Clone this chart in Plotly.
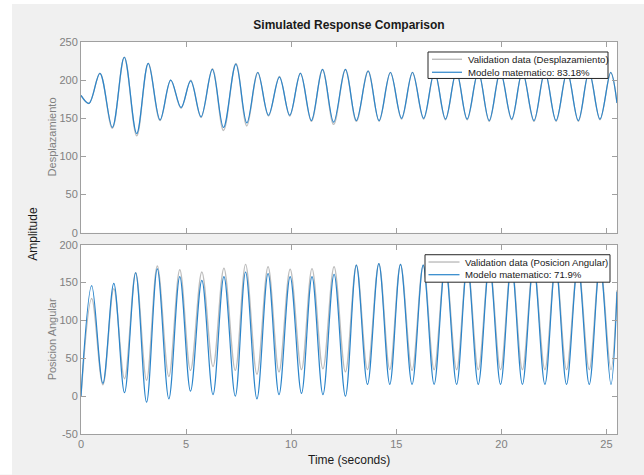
import plotly.graph_objects as go

# ---------------- data (extrema) ----------------
# Top subplot: Desplazamiento
t_desp = [0, 0.38, 0.9, 1.49, 2.06, 2.65, 3.2, 3.76, 4.27, 4.76, 5.22, 5.71, 6.25, 6.78,
          7.37, 7.89, 8.41, 8.92, 9.44, 9.93, 10.44, 10.96, 11.49, 12.02, 12.58, 13.1,
          13.66, 14.18, 14.72, 15.25, 15.77, 16.3, 16.82, 17.34, 17.86, 18.37, 18.9,
          19.42, 19.95, 20.49, 21.0, 21.55, 22.07, 22.6, 23.13, 23.66, 24.17, 24.69,
          25.2, 25.5]
desp_model = [180, 169.5, 209, 138, 230, 130, 222, 148, 200, 164, 199, 152, 214, 138,
              221, 144, 210, 154, 204, 154, 209, 147, 214, 145, 214, 147,
              212, 147, 210, 150, 210, 150, 211, 149, 211, 149, 211,
              147, 211, 149, 211, 147, 211, 147, 211, 147, 211, 149,
              210, 170]
desp_valid = [180, 169.5, 209, 137, 230, 127, 222, 147, 200, 163, 200, 151, 215, 134,
              222, 140, 210, 153, 205, 153, 209, 146, 214, 142, 214, 146,
              212, 146, 210, 149, 210, 149, 211, 148, 211, 148, 211,
              146, 211, 148, 211, 146, 211, 146, 211, 146, 211, 148,
              210, 170]

# Bottom subplot: Posicion Angular
t_ang = [0, 0.51, 1.04, 1.56, 2.07, 2.6, 3.12, 3.63, 4.18, 4.7, 5.21, 5.75, 6.28, 6.8,
         7.34, 7.83, 8.37, 8.9, 9.42, 9.95, 10.49, 10.99, 11.51, 12.04, 12.58, 13.1,
         13.63, 14.17, 14.69, 15.2, 15.75, 16.28, 16.8, 17.33, 17.87, 18.38, 18.9,
         19.43, 19.96, 20.48, 21.0, 21.53, 22.07, 22.58, 23.1, 23.64, 24.18, 24.69,
         25.21, 25.5]
ang_model = [0, 146, 17, 149, 4.5, 163, -8, 168, -3.5, 158, 6.6, 153, 2, 158,
             0, 164, -3.5, 162, 2, 158, 3.6, 158, 2, 161, 0, 173,
             15.5, 175, 15.5, 174, 15.5, 173, 15.5, 174, 15.5, 174, 15.5,
             174, 15.5, 174, 15.5, 174, 15.5, 174, 15.5, 174, 15.5, 174,
             15.5, 138]
ang_valid = [0, 129, 15, 142, 23, 163, 21, 172, 26, 167, 34, 164, 39, 169,
             34, 174, 29, 171, 32, 167.6, 35, 168.5, 36, 171, 32, 173,
             35, 175, 35, 174, 34, 173, 35, 174, 35, 174, 35,
             174, 35, 174, 35, 174, 35, 174, 35, 174, 35, 174,
             35, 140]

labels_top = ["Validation data (Desplazamiento)", "Modelo matematico: 83.18%"]
labels_bot = ["Validation data (Posicion Angular)", "Modelo matematico: 71.9%"]

top_ticks = [0, 50, 100, 150, 200, 250]
bot_ticks = [-50, 0, 50, 100, 150, 200]
bot_tick_text = ["-50", "0", "50", "100", "150", "200"]
x_ticks = [0, 5, 10, 15, 20, 25]

# ---------------- styling ----------------
GRAY_LINE = "#BDBDBD"
BLUE = "#2A84CA"
AXIS = "#A0A0A0"
FONT = "Liberation Sans, Arial, sans-serif"
TICKFONT = dict(family=FONT, size=11, color="#808080")

W, H = 644, 475
L, R, T, B = 81, 27, 42, 40.5
pw = W - L - R
ph = H - T - B


def px(x):
    return (x - L) / pw


def py(y):
    return (H - B - y) / ph


top_dom = [py(233), 1.0]
bot_dom = [0.0, py(245)]

fig = go.Figure()
fig.add_trace(go.Scatter(x=t_desp, y=desp_valid, mode="lines", name=labels_top[0],
                         line=dict(color=GRAY_LINE, width=1.4, shape="spline"),
                         xaxis="x", yaxis="y"))
fig.add_trace(go.Scatter(x=t_desp, y=desp_model, mode="lines", name=labels_top[1],
                         line=dict(color=BLUE, width=1.2, shape="spline"),
                         xaxis="x", yaxis="y"))
fig.add_trace(go.Scatter(x=t_ang, y=ang_valid, mode="lines", name=labels_bot[0],
                         line=dict(color=GRAY_LINE, width=1.4, shape="spline"),
                         xaxis="x2", yaxis="y2"))
fig.add_trace(go.Scatter(x=t_ang, y=ang_model, mode="lines", name=labels_bot[1],
                         line=dict(color=BLUE, width=1.2, shape="spline"),
                         xaxis="x2", yaxis="y2"))

common_axis = dict(showline=True, linecolor=AXIS, linewidth=1, mirror="ticks",
                   ticks="inside", ticklen=5, tickcolor=AXIS, showgrid=False,
                   zeroline=False, tickfont=TICKFONT)

shapes = [
    # white strips along the left and top edges of the window
    dict(type="rect", xref="paper", yref="paper", x0=px(0), x1=px(12),
         y0=py(H), y1=py(0), fillcolor="white", line_width=0, layer="below"),
    dict(type="rect", xref="paper", yref="paper", x0=px(0), x1=px(W),
         y0=py(4), y1=py(0), fillcolor="white", line_width=0, layer="below"),
]
annotations = [
    dict(text="Amplitude", xref="paper", yref="paper", x=px(33), y=py(234),
         textangle=-90, showarrow=False, xanchor="center", yanchor="middle",
         font=dict(family=FONT, size=12, color="#1A1A1A")),
    dict(text="Desplazamiento", xref="paper", yref="paper", x=px(52),
         y=(top_dom[0] + top_dom[1]) / 2, textangle=-90, showarrow=False,
         xanchor="center", yanchor="middle",
         font=dict(family=FONT, size=11, color="#808080")),
    dict(text="Posicion Angular", xref="paper", yref="paper", x=px(52),
         y=(bot_dom[0] + bot_dom[1]) / 2, textangle=-90, showarrow=False,
         xanchor="center", yanchor="middle",
         font=dict(family=FONT, size=11, color="#808080")),
    dict(text="Time (seconds)", xref="paper", yref="paper", x=0.5, y=py(461),
         showarrow=False, xanchor="center", yanchor="middle",
         font=dict(family=FONT, size=12, color="#1A1A1A")),
]

# legend boxes (drawn as boxes with sample lines and real text labels)
LEG_FONT = dict(family=FONT, size=9.6, color="#1A1A1A")
for (bx0, by0, bx1, by1, lx0, lx1, tx, rows, labels) in [
    (428, 52, 608, 78.5, 432, 462, 465.5, (59.3, 72.3), labels_top),
    (425, 255, 610, 282.5, 428.5, 459.5, 462.5, (262.3, 275), labels_bot),
]:
    shapes.append(dict(type="rect", xref="paper", yref="paper", x0=px(bx0), x1=px(bx1),
                       y0=py(by1), y1=py(by0), fillcolor="white",
                       line=dict(color="#262626", width=1), layer="above"))
    for ry, col, wid, lab in zip(rows, (GRAY_LINE, BLUE), (1.4, 1.2), labels):
        shapes.append(dict(type="line", xref="paper", yref="paper", x0=px(lx0),
                           x1=px(lx1), y0=py(ry), y1=py(ry),
                           line=dict(color=col, width=wid), layer="above"))
        annotations.append(dict(text=lab, xref="paper", yref="paper", x=px(tx),
                                y=py(ry), xanchor="left", yanchor="middle",
                                showarrow=False, font=LEG_FONT))

fig.update_layout(
    width=W, height=H,
    margin=dict(l=L, r=R, t=T, b=B),
    paper_bgcolor="#F0F0F0", plot_bgcolor="white",
    showlegend=False,
    title=dict(text="Simulated Response Comparison", x=(L + pw / 2) / W,
               xanchor="center", y=1 - 25 / H, yanchor="middle",
               font=dict(family=FONT, size=12, color="#1A1A1A", weight="bold")),
    xaxis=dict(domain=[0, 1], range=[0, 25.5], anchor="y", matches="x2",
               tickvals=x_ticks, showticklabels=False, **common_axis),
    yaxis=dict(domain=top_dom, range=[0, 250], anchor="x", tickvals=top_ticks,
               **common_axis),
    xaxis2=dict(domain=[0, 1], range=[0, 25.5], anchor="y2", tickvals=x_ticks,
                **common_axis),
    yaxis2=dict(domain=bot_dom, range=[-50, 200], anchor="x2", tickvals=bot_ticks,
                ticktext=bot_tick_text, **common_axis),
    shapes=shapes,
    annotations=annotations,
)

fig.write_html("out.html",
               config={"displayModeBar": False},
               post_script="document.body.style.margin='0';"
                           "document.body.style.overflow='hidden';")
